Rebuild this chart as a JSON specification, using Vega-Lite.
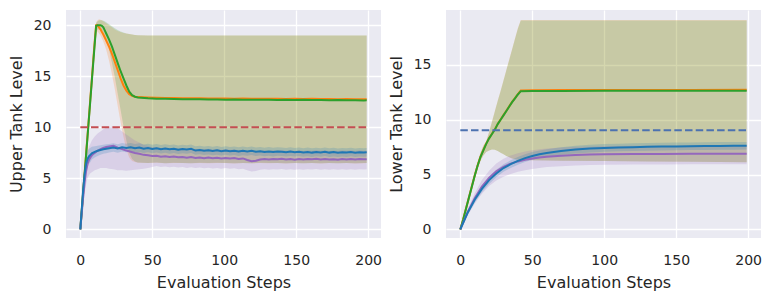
{
"$schema": "https://vega.github.io/schema/vega-lite/v6.json",
"padding": {"left": 8, "top": 10, "right": 5, "bottom": 5},
"spacing": 6,
"config": {
 "font": "DejaVu Sans",
 "view": {"fill": "#eaeaf2", "stroke": null},
 "axis": {"domain": false, "ticks": false, "tickSize": 0, "grid": true, "gridColor": "#ffffff", "gridWidth": 1.3, "labelFont": "DejaVu Sans", "labelFontSize": 14, "labelColor": "#262626", "labelPadding": 15, "titleFont": "DejaVu Sans", "titleFontSize": 16, "titleFontWeight": "normal", "titleColor": "#262626", "labelFlush": false, "labelOverlap": false},
 "axisX": {"titlePadding": 7},
 "axisY": {"titlePadding": 9}
},
"datasets": {
 "ref1": [{"x": 0, "y": 10}, {"x": 199, "y": 10}],
 "ref2": [{"x": 0, "y": 9.05}, {"x": 199, "y": 9.05}],
 "up": [
{"s":"o","x":0,"y":0,"l":0,"h":0},{"s":"o","x":1,"y":1.85,"l":1.7,"h":2.0},{"s":"o","x":2,"y":3.7,"l":3.5,"h":3.9},{"s":"o","x":3,"y":5.5,"l":5.3,"h":5.8},{"s":"o","x":4,"y":7.35,"l":7.0,"h":7.7},{"s":"o","x":5,"y":9.2,"l":8.8,"h":9.6},{"s":"o","x":6,"y":11.0,"l":10.6,"h":11.5},{"s":"o","x":7,"y":12.9,"l":12.4,"h":13.4},{"s":"o","x":8,"y":14.7,"l":14.2,"h":15.3},{"s":"o","x":9,"y":16.6,"l":16.0,"h":17.2},{"s":"o","x":10,"y":18.4,"l":17.7,"h":19.1},{"s":"o","x":11,"y":20.0,"l":19.4,"h":20.3},{"s":"o","x":12,"y":20.0,"l":19.4,"h":20.5},{"s":"o","x":13,"y":19.8,"l":19.2,"h":20.6},{"s":"o","x":14,"y":19.6,"l":19.0,"h":20.55},{"s":"o","x":15,"y":19.35,"l":18.7,"h":20.5},{"s":"o","x":16,"y":19.1,"l":18.4,"h":20.4},{"s":"o","x":18,"y":18.5,"l":17.6,"h":20.2},{"s":"o","x":20,"y":17.9,"l":16.5,"h":20.0},{"s":"o","x":22,"y":17.2,"l":15.2,"h":19.8},{"s":"o","x":24,"y":16.4,"l":13.7,"h":19.6},{"s":"o","x":26,"y":15.6,"l":12.1,"h":19.45},{"s":"o","x":28,"y":14.8,"l":10.5,"h":19.35},{"s":"o","x":30,"y":14.1,"l":9.05,"h":19.25},{"s":"o","x":32,"y":13.6,"l":7.8,"h":19.2},{"s":"o","x":34,"y":13.25,"l":7.05,"h":19.15},{"s":"o","x":36,"y":13.08,"l":6.7,"h":19.1},{"s":"o","x":38,"y":13.0,"l":6.6,"h":19.05},{"s":"o","x":40,"y":12.96,"l":6.52,"h":19.02},
{"s":"o","x":47,"y":12.93,"l":6.5,"h":19.0},{"s":"o","x":53,"y":12.9,"l":6.52,"h":19.0},{"s":"o","x":59,"y":12.88,"l":6.48,"h":19.0},{"s":"o","x":65,"y":12.87,"l":6.5,"h":19.0},{"s":"o","x":71,"y":12.86,"l":6.49,"h":19.0},{"s":"o","x":77,"y":12.84,"l":6.47,"h":19.0},{"s":"o","x":83,"y":12.85,"l":6.5,"h":19.0},{"s":"o","x":89,"y":12.83,"l":6.48,"h":19.0},{"s":"o","x":95,"y":12.82,"l":6.51,"h":19.0},{"s":"o","x":101,"y":12.83,"l":6.49,"h":19.0},{"s":"o","x":107,"y":12.81,"l":6.46,"h":19.0},{"s":"o","x":113,"y":12.82,"l":6.5,"h":19.0},{"s":"o","x":119,"y":12.8,"l":6.47,"h":19.0},{"s":"o","x":125,"y":12.81,"l":6.5,"h":19.0},{"s":"o","x":131,"y":12.79,"l":6.48,"h":19.0},{"s":"o","x":137,"y":12.8,"l":6.5,"h":19.0},{"s":"o","x":143,"y":12.78,"l":6.46,"h":19.0},{"s":"o","x":149,"y":12.79,"l":6.49,"h":19.0},{"s":"o","x":155,"y":12.77,"l":6.47,"h":19.0},{"s":"o","x":161,"y":12.79,"l":6.5,"h":19.0},{"s":"o","x":167,"y":12.77,"l":6.46,"h":19.0},{"s":"o","x":173,"y":12.78,"l":6.49,"h":19.0},{"s":"o","x":179,"y":12.76,"l":6.47,"h":19.0},{"s":"o","x":185,"y":12.77,"l":6.49,"h":19.0},{"s":"o","x":191,"y":12.75,"l":6.46,"h":19.0},{"s":"o","x":197,"y":12.76,"l":6.48,"h":19.0},{"s":"o","x":199,"y":12.75,"l":6.49,"h":19.0},
{"s":"g","x":0,"y":0,"l":0,"h":0},{"s":"g","x":1,"y":1.8,"l":1.7,"h":1.9},{"s":"g","x":2,"y":3.65,"l":3.5,"h":3.8},{"s":"g","x":3,"y":5.45,"l":5.3,"h":5.6},{"s":"g","x":4,"y":7.25,"l":7.0,"h":7.5},{"s":"g","x":5,"y":9.05,"l":8.8,"h":9.3},{"s":"g","x":6,"y":10.9,"l":10.6,"h":11.2},{"s":"g","x":7,"y":12.7,"l":12.4,"h":13.0},{"s":"g","x":8,"y":14.55,"l":14.2,"h":14.9},{"s":"g","x":9,"y":16.35,"l":16.0,"h":16.7},{"s":"g","x":10,"y":18.15,"l":17.7,"h":18.6},{"s":"g","x":11,"y":19.95,"l":19.4,"h":20.2},{"s":"g","x":12,"y":20.0,"l":19.6,"h":20.4},{"s":"g","x":13,"y":20.0,"l":19.6,"h":20.5},{"s":"g","x":14,"y":20.0,"l":19.6,"h":20.5},{"s":"g","x":15,"y":19.95,"l":19.5,"h":20.5},{"s":"g","x":16,"y":19.8,"l":19.3,"h":20.45},{"s":"g","x":17,"y":19.5,"l":19.0,"h":20.4},{"s":"g","x":18,"y":19.2,"l":18.6,"h":20.3},{"s":"g","x":20,"y":18.6,"l":17.6,"h":20.1},{"s":"g","x":22,"y":17.9,"l":16.3,"h":19.9},{"s":"g","x":24,"y":17.1,"l":14.9,"h":19.7},{"s":"g","x":26,"y":16.3,"l":13.3,"h":19.55},{"s":"g","x":28,"y":15.5,"l":11.7,"h":19.4},{"s":"g","x":30,"y":14.8,"l":10.1,"h":19.3},{"s":"g","x":32,"y":14.1,"l":8.7,"h":19.2},{"s":"g","x":34,"y":13.5,"l":7.5,"h":19.15},{"s":"g","x":36,"y":13.15,"l":6.9,"h":19.1},{"s":"g","x":38,"y":13.0,"l":6.65,"h":19.05},{"s":"g","x":40,"y":12.92,"l":6.55,"h":19.02},
{"s":"g","x":47,"y":12.84,"l":6.5,"h":19.0},{"s":"g","x":53,"y":12.8,"l":6.54,"h":19.0},{"s":"g","x":59,"y":12.79,"l":6.48,"h":19.0},{"s":"g","x":65,"y":12.77,"l":6.53,"h":19.0},{"s":"g","x":71,"y":12.76,"l":6.5,"h":19.0},{"s":"g","x":77,"y":12.75,"l":6.47,"h":19.0},{"s":"g","x":83,"y":12.74,"l":6.52,"h":19.0},{"s":"g","x":89,"y":12.73,"l":6.49,"h":19.0},{"s":"g","x":95,"y":12.72,"l":6.53,"h":19.0},{"s":"g","x":101,"y":12.71,"l":6.5,"h":19.0},{"s":"g","x":107,"y":12.72,"l":6.47,"h":19.0},{"s":"g","x":113,"y":12.7,"l":6.51,"h":19.0},{"s":"g","x":119,"y":12.71,"l":6.48,"h":19.0},{"s":"g","x":125,"y":12.69,"l":6.52,"h":19.0},{"s":"g","x":131,"y":12.7,"l":6.49,"h":19.0},{"s":"g","x":137,"y":12.68,"l":6.51,"h":19.0},{"s":"g","x":143,"y":12.7,"l":6.47,"h":19.0},{"s":"g","x":149,"y":12.67,"l":6.5,"h":19.0},{"s":"g","x":155,"y":12.69,"l":6.48,"h":19.0},{"s":"g","x":161,"y":12.67,"l":6.51,"h":19.0},{"s":"g","x":167,"y":12.68,"l":6.47,"h":19.0},{"s":"g","x":173,"y":12.66,"l":6.5,"h":19.0},{"s":"g","x":179,"y":12.67,"l":6.48,"h":19.0},{"s":"g","x":185,"y":12.65,"l":6.5,"h":19.0},{"s":"g","x":191,"y":12.66,"l":6.47,"h":19.0},{"s":"g","x":197,"y":12.64,"l":6.49,"h":19.0},{"s":"g","x":199,"y":12.65,"l":6.5,"h":19.0},
{"s":"p","x":0,"y":0,"l":0,"h":0},{"s":"p","x":1,"y":1.6,"l":1.1,"h":2.1},{"s":"p","x":2,"y":3.2,"l":2.4,"h":4.0},{"s":"p","x":3,"y":4.6,"l":3.5,"h":5.6},{"s":"p","x":4,"y":5.7,"l":4.4,"h":6.9},{"s":"p","x":5,"y":6.4,"l":5.0,"h":7.6},{"s":"p","x":6,"y":6.8,"l":5.3,"h":8.1},{"s":"p","x":7,"y":7.05,"l":5.5,"h":8.4},{"s":"p","x":8,"y":7.25,"l":5.6,"h":8.7},{"s":"p","x":10,"y":7.5,"l":5.8,"h":9.1},{"s":"p","x":12,"y":7.7,"l":5.9,"h":9.4},{"s":"p","x":14,"y":7.85,"l":6.0,"h":9.6},{"s":"p","x":16,"y":7.98,"l":6.0,"h":9.8},{"s":"p","x":18,"y":8.08,"l":6.0,"h":9.95},{"s":"p","x":20,"y":8.12,"l":5.95,"h":10.0},{"s":"p","x":23,"y":8.18,"l":5.9,"h":10.1},{"s":"p","x":26,"y":8.0,"l":5.8,"h":9.9},{"s":"p","x":29,"y":7.88,"l":5.8,"h":9.6},{"s":"p","x":32,"y":7.72,"l":5.75,"h":9.3},{"s":"p","x":35,"y":7.6,"l":5.8,"h":9.0},{"s":"p","x":38,"y":7.48,"l":5.85,"h":8.7},{"s":"p","x":41,"y":7.4,"l":5.9,"h":8.5},{"s":"p","x":44,"y":7.3,"l":5.95,"h":8.3},{"s":"p","x":47,"y":7.26,"l":6.0,"h":8.2},{"s":"p","x":50,"y":7.18,"l":6.1,"h":8.05},{"s":"p","x":53,"y":7.22,"l":6.22,"h":8.07},{"s":"p","x":56,"y":7.12,"l":6.12,"h":7.97},{"s":"p","x":59,"y":7.16,"l":6.16,"h":8.01},{"s":"p","x":62,"y":7.08,"l":6.08,"h":7.93},{"s":"p","x":65,"y":7.14,"l":6.14,"h":7.99},{"s":"p","x":68,"y":7.06,"l":6.06,"h":7.91},{"s":"p","x":71,"y":7.1,"l":6.1,"h":7.95},{"s":"p","x":74,"y":7.02,"l":6.02,"h":7.87},{"s":"p","x":77,"y":7.08,"l":6.08,"h":7.93},{"s":"p","x":80,"y":7.0,"l":6.0,"h":7.85},{"s":"p","x":83,"y":7.05,"l":6.05,"h":7.9},{"s":"p","x":86,"y":6.98,"l":5.98,"h":7.83},{"s":"p","x":89,"y":7.04,"l":6.04,"h":7.89},{"s":"p","x":92,"y":6.96,"l":5.96,"h":7.81},{"s":"p","x":95,"y":7.02,"l":6.02,"h":7.87},{"s":"p","x":98,"y":6.95,"l":5.95,"h":7.8},{"s":"p","x":101,"y":7.0,"l":6.0,"h":7.85},{"s":"p","x":104,"y":6.94,"l":5.94,"h":7.79},{"s":"p","x":107,"y":6.98,"l":5.98,"h":7.83},{"s":"p","x":110,"y":6.9,"l":5.9,"h":7.75},{"s":"p","x":113,"y":6.95,"l":5.95,"h":7.8},{"s":"p","x":116,"y":6.8,"l":5.8,"h":7.65},{"s":"p","x":119,"y":6.68,"l":5.68,"h":7.53},{"s":"p","x":122,"y":6.72,"l":5.72,"h":7.57},{"s":"p","x":125,"y":6.85,"l":5.85,"h":7.7},{"s":"p","x":128,"y":6.9,"l":5.9,"h":7.75},{"s":"p","x":131,"y":6.84,"l":5.84,"h":7.69},{"s":"p","x":134,"y":6.9,"l":5.9,"h":7.75},{"s":"p","x":137,"y":6.86,"l":5.86,"h":7.71},{"s":"p","x":140,"y":6.92,"l":5.92,"h":7.77},{"s":"p","x":143,"y":6.85,"l":5.85,"h":7.7},{"s":"p","x":146,"y":6.9,"l":5.9,"h":7.75},{"s":"p","x":149,"y":6.83,"l":5.83,"h":7.68},{"s":"p","x":152,"y":6.89,"l":5.89,"h":7.74},{"s":"p","x":155,"y":6.84,"l":5.84,"h":7.69},{"s":"p","x":158,"y":6.9,"l":5.9,"h":7.75},{"s":"p","x":161,"y":6.86,"l":5.86,"h":7.71},{"s":"p","x":164,"y":6.92,"l":5.92,"h":7.77},{"s":"p","x":167,"y":6.85,"l":5.85,"h":7.7},{"s":"p","x":170,"y":6.9,"l":5.9,"h":7.75},{"s":"p","x":173,"y":6.84,"l":5.84,"h":7.69},{"s":"p","x":176,"y":6.88,"l":5.88,"h":7.73},{"s":"p","x":179,"y":6.83,"l":5.83,"h":7.68},{"s":"p","x":182,"y":6.9,"l":5.9,"h":7.75},{"s":"p","x":185,"y":6.85,"l":5.85,"h":7.7},{"s":"p","x":188,"y":6.9,"l":5.9,"h":7.75},{"s":"p","x":191,"y":6.84,"l":5.84,"h":7.69},{"s":"p","x":194,"y":6.89,"l":5.89,"h":7.74},{"s":"p","x":197,"y":6.86,"l":5.86,"h":7.71},{"s":"p","x":199,"y":6.88,"l":5.88,"h":7.73},
{"s":"b","x":0,"y":0,"l":0,"h":0},{"s":"b","x":1,"y":2.0,"l":1.5,"h":2.5},{"s":"b","x":2,"y":3.9,"l":3.2,"h":4.6},{"s":"b","x":3,"y":5.4,"l":4.6,"h":6.2},{"s":"b","x":4,"y":6.4,"l":5.5,"h":7.2},{"s":"b","x":5,"y":6.9,"l":6.1,"h":7.7},{"s":"b","x":6,"y":7.15,"l":6.4,"h":7.9},{"s":"b","x":7,"y":7.3,"l":6.6,"h":8.0},{"s":"b","x":8,"y":7.45,"l":6.85,"h":8.1},{"s":"b","x":10,"y":7.6,"l":7.05,"h":8.15},{"s":"b","x":12,"y":7.7,"l":7.2,"h":8.2},{"s":"b","x":14,"y":7.78,"l":7.3,"h":8.25},{"s":"b","x":16,"y":7.85,"l":7.4,"h":8.3},{"s":"b","x":18,"y":7.9,"l":7.45,"h":8.35},{"s":"b","x":20,"y":7.95,"l":7.53,"h":8.37},{"s":"b","x":23,"y":8.02,"l":7.6,"h":8.44},{"s":"b","x":26,"y":7.93,"l":7.51,"h":8.35},{"s":"b","x":29,"y":8.05,"l":7.63,"h":8.47},{"s":"b","x":32,"y":7.98,"l":7.56,"h":8.4},{"s":"b","x":35,"y":8.04,"l":7.62,"h":8.46},{"s":"b","x":38,"y":7.94,"l":7.52,"h":8.36},{"s":"b","x":41,"y":8.01,"l":7.59,"h":8.43},{"s":"b","x":44,"y":7.9,"l":7.48,"h":8.32},{"s":"b","x":47,"y":7.97,"l":7.55,"h":8.39},{"s":"b","x":50,"y":7.88,"l":7.46,"h":8.3},{"s":"b","x":53,"y":7.95,"l":7.53,"h":8.37},{"s":"b","x":56,"y":7.85,"l":7.43,"h":8.27},{"s":"b","x":59,"y":7.92,"l":7.5,"h":8.34},{"s":"b","x":62,"y":7.84,"l":7.42,"h":8.26},{"s":"b","x":65,"y":7.9,"l":7.48,"h":8.32},{"s":"b","x":68,"y":7.8,"l":7.38,"h":8.22},{"s":"b","x":71,"y":7.87,"l":7.45,"h":8.29},{"s":"b","x":74,"y":7.83,"l":7.41,"h":8.25},{"s":"b","x":77,"y":7.9,"l":7.48,"h":8.32},{"s":"b","x":80,"y":7.72,"l":7.3,"h":8.14},{"s":"b","x":83,"y":7.78,"l":7.36,"h":8.2},{"s":"b","x":86,"y":7.7,"l":7.28,"h":8.12},{"s":"b","x":89,"y":7.76,"l":7.34,"h":8.18},{"s":"b","x":92,"y":7.68,"l":7.26,"h":8.1},{"s":"b","x":95,"y":7.74,"l":7.32,"h":8.16},{"s":"b","x":98,"y":7.66,"l":7.24,"h":8.08},{"s":"b","x":101,"y":7.72,"l":7.3,"h":8.14},{"s":"b","x":104,"y":7.65,"l":7.23,"h":8.07},{"s":"b","x":107,"y":7.7,"l":7.28,"h":8.12},{"s":"b","x":110,"y":7.62,"l":7.2,"h":8.04},{"s":"b","x":113,"y":7.69,"l":7.27,"h":8.11},{"s":"b","x":116,"y":7.63,"l":7.21,"h":8.05},{"s":"b","x":119,"y":7.7,"l":7.28,"h":8.12},{"s":"b","x":122,"y":7.6,"l":7.18,"h":8.02},{"s":"b","x":125,"y":7.66,"l":7.24,"h":8.08},{"s":"b","x":128,"y":7.58,"l":7.16,"h":8.0},{"s":"b","x":131,"y":7.64,"l":7.22,"h":8.06},{"s":"b","x":134,"y":7.57,"l":7.15,"h":7.99},{"s":"b","x":137,"y":7.63,"l":7.21,"h":8.05},{"s":"b","x":140,"y":7.6,"l":7.18,"h":8.02},{"s":"b","x":143,"y":7.55,"l":7.13,"h":7.97},{"s":"b","x":146,"y":7.62,"l":7.2,"h":8.04},{"s":"b","x":149,"y":7.56,"l":7.14,"h":7.98},{"s":"b","x":152,"y":7.6,"l":7.18,"h":8.02},{"s":"b","x":155,"y":7.53,"l":7.11,"h":7.95},{"s":"b","x":158,"y":7.59,"l":7.17,"h":8.01},{"s":"b","x":161,"y":7.52,"l":7.1,"h":7.94},{"s":"b","x":164,"y":7.58,"l":7.16,"h":8.0},{"s":"b","x":167,"y":7.54,"l":7.12,"h":7.96},{"s":"b","x":170,"y":7.6,"l":7.18,"h":8.02},{"s":"b","x":173,"y":7.52,"l":7.1,"h":7.94},{"s":"b","x":176,"y":7.57,"l":7.15,"h":7.99},{"s":"b","x":179,"y":7.5,"l":7.08,"h":7.92},{"s":"b","x":182,"y":7.56,"l":7.14,"h":7.98},{"s":"b","x":185,"y":7.52,"l":7.1,"h":7.94},{"s":"b","x":188,"y":7.58,"l":7.16,"h":8.0},{"s":"b","x":191,"y":7.51,"l":7.09,"h":7.93},{"s":"b","x":194,"y":7.56,"l":7.14,"h":7.98},{"s":"b","x":197,"y":7.53,"l":7.11,"h":7.95},{"s":"b","x":199,"y":7.55,"l":7.13,"h":7.97}
 ],
 "lo": [
{"s":"o","x":0,"y":0,"l":0,"h":0},{"s":"o","x":2,"y":0.92,"l":0.8,"h":1.05},{"s":"o","x":4,"y":1.93,"l":1.75,"h":2.1},{"s":"o","x":6,"y":2.93,"l":2.7,"h":3.15},{"s":"o","x":8,"y":3.93,"l":3.7,"h":4.15},{"s":"o","x":10,"y":4.92,"l":4.65,"h":5.2},{"s":"o","x":12,"y":5.82,"l":5.5,"h":6.15},{"s":"o","x":14,"y":6.62,"l":6.25,"h":7.0},{"s":"o","x":16,"y":7.22,"l":6.75,"h":7.65},{"s":"o","x":18,"y":7.82,"l":7.05,"h":8.05},{"s":"o","x":20,"y":8.32,"l":7.2,"h":8.9},{"s":"o","x":22,"y":8.72,"l":7.28,"h":9.85},{"s":"o","x":24,"y":9.12,"l":7.27,"h":10.8},{"s":"o","x":26,"y":9.62,"l":7.15,"h":11.75},{"s":"o","x":28,"y":10.02,"l":7.0,"h":12.65},{"s":"o","x":30,"y":10.42,"l":6.85,"h":13.6},{"s":"o","x":32,"y":10.82,"l":6.7,"h":14.55},{"s":"o","x":34,"y":11.22,"l":6.57,"h":15.5},{"s":"o","x":36,"y":11.62,"l":6.47,"h":16.45},{"s":"o","x":38,"y":11.97,"l":6.4,"h":17.4},{"s":"o","x":40,"y":12.33,"l":6.35,"h":18.35},{"s":"o","x":42,"y":12.66,"l":6.32,"h":19.08},{"s":"o","x":50,"y":12.69,"l":6.3,"h":19.08},{"s":"o","x":70,"y":12.7,"l":6.27,"h":19.08},{"s":"o","x":100,"y":12.71,"l":6.24,"h":19.08},{"s":"o","x":130,"y":12.71,"l":6.2,"h":19.08},{"s":"o","x":160,"y":12.72,"l":6.17,"h":19.08},{"s":"o","x":199,"y":12.73,"l":6.12,"h":19.08},
{"s":"g","x":0,"y":0,"l":0,"h":0},{"s":"g","x":2,"y":0.9,"l":0.8,"h":1.0},{"s":"g","x":4,"y":1.9,"l":1.75,"h":2.05},{"s":"g","x":6,"y":2.9,"l":2.7,"h":3.1},{"s":"g","x":8,"y":3.9,"l":3.7,"h":4.1},{"s":"g","x":10,"y":4.9,"l":4.65,"h":5.15},{"s":"g","x":12,"y":5.8,"l":5.5,"h":6.1},{"s":"g","x":14,"y":6.6,"l":6.25,"h":6.95},{"s":"g","x":16,"y":7.2,"l":6.75,"h":7.6},{"s":"g","x":18,"y":7.8,"l":7.05,"h":8.0},{"s":"g","x":20,"y":8.3,"l":7.2,"h":8.85},{"s":"g","x":22,"y":8.7,"l":7.28,"h":9.8},{"s":"g","x":24,"y":9.1,"l":7.27,"h":10.75},{"s":"g","x":26,"y":9.6,"l":7.15,"h":11.7},{"s":"g","x":28,"y":10.0,"l":7.0,"h":12.6},{"s":"g","x":30,"y":10.4,"l":6.85,"h":13.55},{"s":"g","x":32,"y":10.8,"l":6.7,"h":14.5},{"s":"g","x":34,"y":11.2,"l":6.57,"h":15.45},{"s":"g","x":36,"y":11.6,"l":6.47,"h":16.4},{"s":"g","x":38,"y":11.95,"l":6.4,"h":17.35},{"s":"g","x":40,"y":12.3,"l":6.35,"h":18.3},{"s":"g","x":42,"y":12.6,"l":6.32,"h":19.05},{"s":"g","x":50,"y":12.61,"l":6.3,"h":19.05},{"s":"g","x":70,"y":12.62,"l":6.27,"h":19.05},{"s":"g","x":100,"y":12.63,"l":6.24,"h":19.05},{"s":"g","x":130,"y":12.63,"l":6.2,"h":19.05},{"s":"g","x":160,"y":12.64,"l":6.17,"h":19.05},{"s":"g","x":199,"y":12.65,"l":6.12,"h":19.05},
{"s":"p","x":0,"y":0,"l":0,"h":0},{"s":"p","x":5,"y":1.55,"l":1.25,"h":1.85},{"s":"p","x":10,"y":2.85,"l":2.35,"h":3.3},{"s":"p","x":15,"y":3.9,"l":3.25,"h":4.5},{"s":"p","x":20,"y":4.7,"l":3.95,"h":5.35},{"s":"p","x":25,"y":5.3,"l":4.45,"h":6.0},{"s":"p","x":30,"y":5.7,"l":4.8,"h":6.45},{"s":"p","x":35,"y":6.0,"l":5.05,"h":6.75},{"s":"p","x":40,"y":6.2,"l":5.25,"h":6.95},{"s":"p","x":45,"y":6.35,"l":5.4,"h":7.1},{"s":"p","x":50,"y":6.47,"l":5.52,"h":7.22},{"s":"p","x":55,"y":6.56,"l":5.61,"h":7.31},{"s":"p","x":60,"y":6.63,"l":5.68,"h":7.38},{"s":"p","x":70,"y":6.72,"l":5.77,"h":7.47},{"s":"p","x":80,"y":6.78,"l":5.83,"h":7.53},{"s":"p","x":90,"y":6.82,"l":5.87,"h":7.57},{"s":"p","x":100,"y":6.85,"l":5.9,"h":7.6},{"s":"p","x":120,"y":6.87,"l":5.92,"h":7.62},{"s":"p","x":140,"y":6.88,"l":5.93,"h":7.63},{"s":"p","x":160,"y":6.89,"l":5.94,"h":7.64},{"s":"p","x":180,"y":6.9,"l":5.95,"h":7.65},{"s":"p","x":199,"y":6.9,"l":5.95,"h":7.65},
{"s":"b","x":0,"y":0,"l":0,"h":0},{"s":"b","x":5,"y":1.5,"l":1.35,"h":1.65},{"s":"b","x":10,"y":2.7,"l":2.45,"h":2.95},{"s":"b","x":15,"y":3.7,"l":3.4,"h":4.0},{"s":"b","x":20,"y":4.5,"l":4.15,"h":4.85},{"s":"b","x":25,"y":5.1,"l":4.75,"h":5.45},{"s":"b","x":30,"y":5.6,"l":5.25,"h":5.95},{"s":"b","x":35,"y":5.95,"l":5.6,"h":6.3},{"s":"b","x":40,"y":6.25,"l":5.9,"h":6.6},{"s":"b","x":45,"y":6.5,"l":6.15,"h":6.85},{"s":"b","x":50,"y":6.7,"l":6.35,"h":7.05},{"s":"b","x":55,"y":6.85,"l":6.5,"h":7.2},{"s":"b","x":60,"y":6.97,"l":6.62,"h":7.32},{"s":"b","x":70,"y":7.15,"l":6.8,"h":7.5},{"s":"b","x":80,"y":7.28,"l":6.93,"h":7.63},{"s":"b","x":90,"y":7.37,"l":7.02,"h":7.72},{"s":"b","x":100,"y":7.43,"l":7.08,"h":7.78},{"s":"b","x":110,"y":7.47,"l":7.12,"h":7.82},{"s":"b","x":120,"y":7.5,"l":7.15,"h":7.85},{"s":"b","x":130,"y":7.53,"l":7.18,"h":7.88},{"s":"b","x":140,"y":7.55,"l":7.2,"h":7.9},{"s":"b","x":150,"y":7.57,"l":7.22,"h":7.92},{"s":"b","x":160,"y":7.58,"l":7.23,"h":7.93},{"s":"b","x":170,"y":7.6,"l":7.25,"h":7.95},{"s":"b","x":180,"y":7.61,"l":7.26,"h":7.96},{"s":"b","x":190,"y":7.62,"l":7.27,"h":7.97},{"s":"b","x":199,"y":7.63,"l":7.28,"h":7.98}
 ]
},
"hconcat": [
 {
  "width": 315, "height": 228,
  "encoding": {"x": {"field": "x", "type": "quantitative", "scale": {"domain": [-9.95, 208.95], "nice": false, "zero": false}, "axis": {"values": [0, 50, 100, 150, 200]}, "title": "Evaluation Steps"}},
  "layer": [
   {"data": {"name": "up"}, "mark": {"type": "area", "fillOpacity": 0.2},
    "encoding": {"y": {"field": "l", "type": "quantitative", "scale": {"domain": [-0.85, 21.5], "nice": false, "zero": false}, "axis": {"values": [0, 5, 10, 15, 20]}, "title": "Upper Tank Level"}, "y2": {"field": "h"},
     "color": {"field": "s", "type": "nominal", "scale": {"domain": ["o", "g", "p", "b"], "range": ["#ff7f0e", "#2ca02c", "#9467bd", "#1f77b4"]}, "legend": null}}},
   {"data": {"name": "up"}, "mark": {"type": "line", "strokeWidth": 2},
    "encoding": {"y": {"field": "y", "type": "quantitative", "title": "Upper Tank Level"},
     "color": {"field": "s", "type": "nominal", "legend": null}}},
   {"data": {"name": "ref1"}, "mark": {"type": "line", "color": "#c44e52", "strokeWidth": 2, "strokeDash": [7.5, 3.2]},
    "encoding": {"y": {"field": "y", "type": "quantitative", "title": "Upper Tank Level"}}}
  ]
 },
 {
  "width": 315, "height": 228,
  "encoding": {"x": {"field": "x", "type": "quantitative", "scale": {"domain": [-9.95, 208.95], "nice": false, "zero": false}, "axis": {"values": [0, 50, 100, 150, 200]}, "title": "Evaluation Steps"}},
  "layer": [
   {"data": {"name": "lo"}, "mark": {"type": "area", "fillOpacity": 0.2},
    "encoding": {"y": {"field": "l", "type": "quantitative", "scale": {"domain": [-0.78, 20.0], "nice": false, "zero": false}, "axis": {"values": [0, 5, 10, 15]}, "title": "Lower Tank Level"}, "y2": {"field": "h"},
     "color": {"field": "s", "type": "nominal", "scale": {"domain": ["o", "g", "p", "b"], "range": ["#ff7f0e", "#2ca02c", "#9467bd", "#1f77b4"]}, "legend": null}}},
   {"data": {"name": "lo"}, "mark": {"type": "line", "strokeWidth": 2},
    "encoding": {"y": {"field": "y", "type": "quantitative", "title": "Lower Tank Level"},
     "color": {"field": "s", "type": "nominal", "legend": null}}},
   {"data": {"name": "ref2"}, "mark": {"type": "line", "color": "#4c72b0", "strokeWidth": 2, "strokeDash": [7.5, 3.2]},
    "encoding": {"y": {"field": "y", "type": "quantitative", "title": "Lower Tank Level"}}}
  ]
 }
]
}
